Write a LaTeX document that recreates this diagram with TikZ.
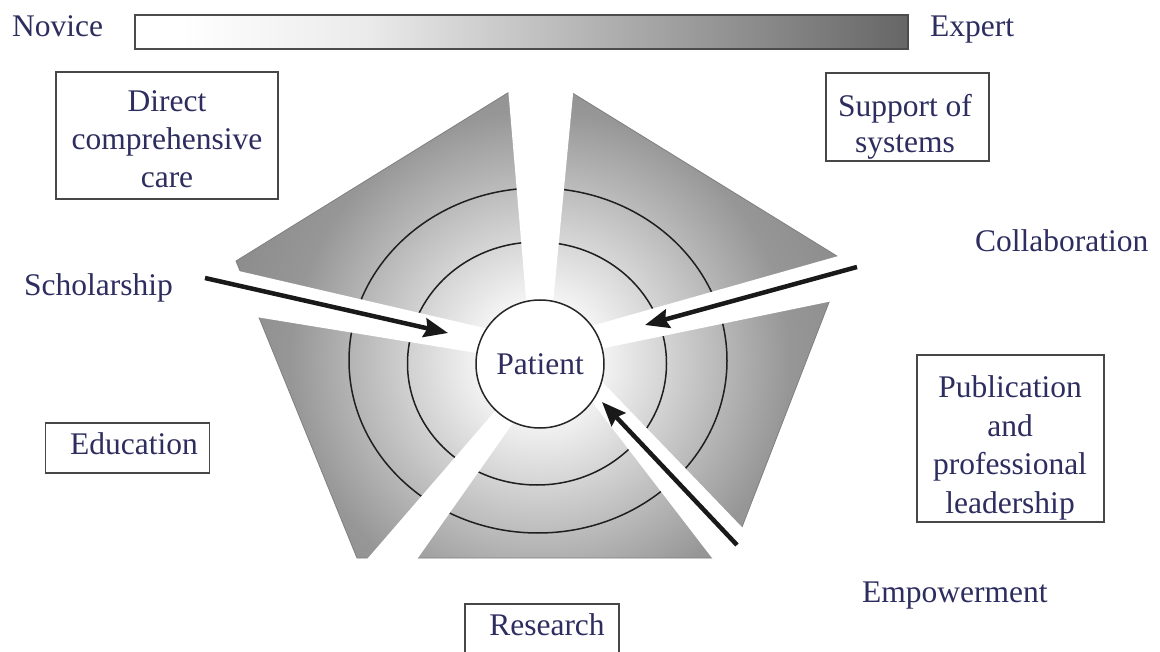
\documentclass[tikz,border=0pt]{standalone}
\usepackage{fontspec}
\setmainfont{Liberation Serif}
\usetikzlibrary{arrows.meta}
\definecolor{navy}{RGB}{45,45,95}
\pgfdeclareradialshading{pentshade}{\pgfpoint{0bp}{0bp}}{color(0bp)=(white); color(3bp)=(white); color(19.5bp)=(black!41); color(25bp)=(black!45); color(50bp)=(black!45)}
\pgfdeclarehorizontalshading{barshade}{100bp}{color(0bp)=(white); color(28bp)=(white); color(40bp)=(white!92!black); color(75bp)=(black!60); color(100bp)=(black!60)}
\begin{document}
\begin{tikzpicture}[x=1pt,y=-1pt,
  lbl/.style={font=\fontsize{31.5}{38}\selectfont, text=navy, inner sep=0pt},
  boxst/.style={draw=black!72, line width=1.6pt, inner sep=0pt},
  ring/.style={draw=black!88, line width=1.5pt},
  gapst/.style={fill=white, draw=none},
  bigarrow/.style={line width=4.5pt, draw=black!90, -{Stealth[length=24pt,width=19pt,inset=3pt]}}]
\clip (0,0) rectangle (1160,652);
\fill[white] (0,0) rectangle (1160,652);

% novice-expert bar
\node[lbl, anchor=base west] (novice) at (12,37) {Novice};
\node[lbl, anchor=base west] (expert) at (930,37) {Expert};
\shade[shading=barshade, draw=black!70, line width=1.8pt] (135,15) rectangle (908,49);

% pentagon
\coordinate (pT) at (540,73);
\coordinate (pR) at (845,261);
\coordinate (pBR) at (730,558);
\coordinate (pBL) at (357,558);
\coordinate (pL) at (236,261);
\begin{scope}
  \clip (pT) -- (pR) -- (pBR) -- (pBL) -- (pL) -- cycle;
  \shade[shading=pentshade] (540,360) circle[radius=320pt];
  \draw[ring] (538,360.5) ellipse[x radius=189pt, y radius=172.5pt];
  \draw[ring] (537,363.5) ellipse[x radius=129.5pt, y radius=121.5pt];
\end{scope}
\draw[black!50, line width=0.8pt] (pT) -- (pR) -- (pBR) -- (pBL) -- (pL) -- cycle;

% white gaps
\fill[gapst] (506.1,65) -- (575.8,65) -- (547.2,364) -- (531.6,364) -- cycle;
\fill[gapst] (150,250.4) -- (540,340.9) -- (540,363.3) -- (150,299.7) -- cycle;
\fill[gapst] (920,232.9) -- (540,340.5) -- (540,361.3) -- (920,283) -- cycle;
\fill[gapst] (585,364) -- (812,600) -- (744.3,600) -- (563,364) -- cycle;
\fill[gapst] (535.8,364) -- (554.5,364) -- (388.4,600) -- (331.7,600) -- cycle;

% patient
\node[lbl, circle, draw=black!85, line width=1.5pt, fill=white, minimum size=128pt] (patient) at (540,364) {Patient};

% arrows
\coordinate (sch0) at (205,278);
\coordinate (sch1) at (448,333);
\coordinate (col0) at (857,267);
\coordinate (col1) at (645,325);
\coordinate (emp0) at (737,545);
\coordinate (emp1) at (602,402);
\draw[bigarrow] (sch0) -- (sch1);
\draw[bigarrow] (col0) -- (col1);
\draw[bigarrow] (emp0) -- (emp1);

% boxes and labels
\node[boxst, minimum width=222pt, minimum height=127pt] (dccbox) at (167,135.5) {};
\node[lbl, align=center, anchor=north] (dcc) at (167,90.8) {Direct\\comprehensive\\care};

\node[boxst, minimum width=163pt, minimum height=88pt] (supbox) at (907.5,117) {};
\node[lbl, align=center, anchor=north] (sup) at (905,93.8) {Support of\\[-2pt]systems};

\node[lbl, anchor=base west] (collab) at (975,252) {Collaboration};
\node[lbl, anchor=base west] (schol) at (24,296) {Scholarship};

\node[boxst, minimum width=164pt, minimum height=50pt] (edubox) at (127.5,447.7) {};
\node[lbl, anchor=base] (edu) at (134,454) {Education};

\node[boxst, minimum width=154pt, minimum height=56pt] (resbox) at (542,632) {};
\node[lbl, anchor=base] (res) at (547,635) {Research};

\node[boxst, minimum width=187pt, minimum height=167pt] (pubbox) at (1010.5,438.5) {};
\node[lbl, align=center, anchor=north] (pub) at (1010,375.8) {Publication\\[0.5pt]and\\[0.5pt]professional\\[0.5pt]leadership};

\node[lbl, anchor=base west] (emp) at (862,602) {Empowerment};
\end{tikzpicture}
\end{document}
